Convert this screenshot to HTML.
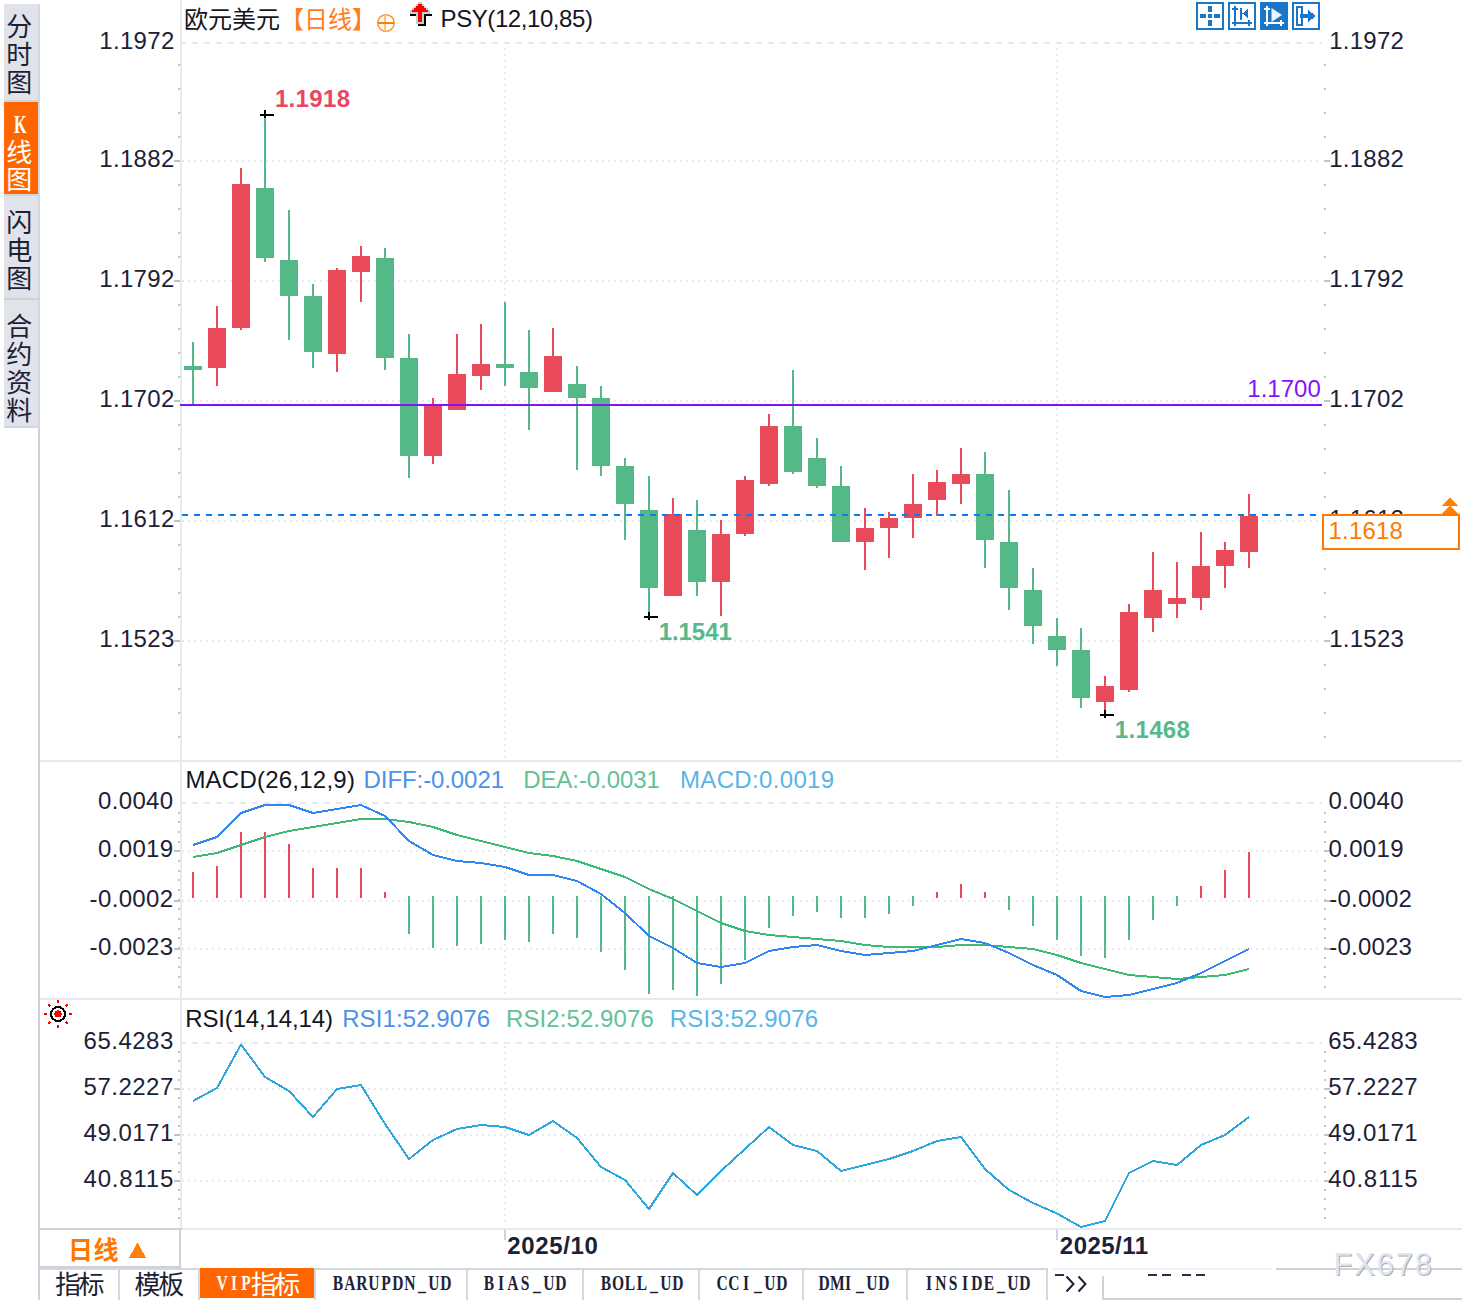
<!DOCTYPE html>
<html lang="zh">
<head>
<meta charset="utf-8">
<title>EURUSD Daily K-Line Chart</title>
<style>
html,body{margin:0;padding:0;background:#fff;}
body{width:1462px;height:1300px;position:relative;overflow:hidden;font-family:"Liberation Sans",sans-serif;}
#chart{position:absolute;left:0;top:0;width:1462px;height:1300px;}
#chart svg{position:absolute;left:0;top:0;}
#chart svg text{font-family:"Liberation Sans","Noto Sans CJK SC",sans-serif;}
.t{position:absolute;white-space:nowrap;line-height:1;font-family:"Liberation Sans",sans-serif;}
.z{z-index:2;}
.tab{font-family:"Liberation Serif",serif;font-size:21px;font-weight:bold;line-height:24px;transform:scaleX(.74);transform-origin:0 0;}
.tab i{display:inline-block;width:16.216px;text-align:center;font-style:normal;}
.tag{position:absolute;left:1322px;top:514px;width:134px;height:32px;border:2px solid #ff7a00;background:#fff;z-index:1;}
</style>
</head>
<body>
<div id="chart">
<svg width="1462" height="1300" viewBox="0 0 1462 1300" shape-rendering="crispEdges">
<rect x="4" y="4" width="36" height="424" fill="#e1e3eb"/>
<rect x="38" y="4" width="2" height="424" fill="#d4d8e0"/>
<rect x="4" y="100" width="36" height="2" fill="#d0d6de"/>
<rect x="4" y="194" width="36" height="2" fill="#d0d6de"/>
<rect x="4" y="298" width="36" height="2" fill="#ccd3da"/>
<rect x="4" y="426" width="36" height="2" fill="#d0d6de"/>
<rect x="4" y="102" width="34" height="92" fill="#ff6600"/>
<text x="6.2" y="35.7" font-size="26" fill="#1d2136">分</text>
<text x="6.2" y="64" font-size="26" fill="#1d2136">时</text>
<text x="6.2" y="92" font-size="26" fill="#1d2136">图</text>
<text x="6.2" y="162.1" font-size="26" fill="#ffffff">线</text>
<text x="6.2" y="189.3" font-size="26" fill="#ffffff">图</text>
<text x="6.2" y="231.5" font-size="26" fill="#1d2136">闪</text>
<text x="6.2" y="260.2" font-size="26" fill="#1d2136">电</text>
<text x="6.2" y="288.2" font-size="26" fill="#1d2136">图</text>
<text x="6.2" y="335.7" font-size="26" fill="#1d2136">合</text>
<text x="6.2" y="363.7" font-size="26" fill="#1d2136">约</text>
<text x="6.2" y="391.7" font-size="26" fill="#1d2136">资</text>
<text x="6.2" y="419.7" font-size="26" fill="#1d2136">料</text>
<rect x="38" y="428" width="2" height="872" fill="#cdd2da"/>
<rect x="180" y="0" width="2" height="1229" fill="#e6eaef"/>
<rect x="40" y="760" width="1422" height="2" fill="#e6eaef"/>
<rect x="40" y="998" width="1422" height="2" fill="#e6eaef"/>
<rect x="180" y="1228" width="1282" height="2" fill="#e6eaef"/>
<rect x="38" y="1228" width="144" height="2" fill="#cdd2da"/>
<rect x="179" y="1228" width="2" height="40" fill="#cdd2da"/>
<rect x="40" y="1266" width="140" height="2" fill="#cdd2da"/>
<rect x="40" y="1268" width="1008" height="2" fill="#d3d8df"/>
<rect x="1276" y="1268" width="186" height="2" fill="#cdd2da"/>
<rect x="1052" y="1268" width="220" height="2" fill="#eef1f4"/>
<rect x="1102" y="1276" width="2" height="24" fill="#cdd2da"/>
<rect x="1102" y="1298" width="360" height="2" fill="#cdd2da"/>
<rect x="118" y="1270" width="2" height="30" fill="#d3d8df"/>
<rect x="198" y="1270" width="2" height="30" fill="#d3d8df"/>
<rect x="314" y="1270" width="2" height="30" fill="#d3d8df"/>
<rect x="466" y="1270" width="2" height="30" fill="#d3d8df"/>
<rect x="582" y="1270" width="2" height="30" fill="#d3d8df"/>
<rect x="698" y="1270" width="2" height="30" fill="#d3d8df"/>
<rect x="802" y="1270" width="2" height="30" fill="#d3d8df"/>
<rect x="906" y="1270" width="2" height="30" fill="#d3d8df"/>
<rect x="1046" y="1270" width="2" height="30" fill="#d3d8df"/>
<rect x="200" y="1268" width="114" height="30" fill="#ff6600"/>
<line x1="180" y1="43" x2="1322" y2="43" stroke="#e5eaee" stroke-width="2" stroke-dasharray="6 6" stroke-dashoffset="0"/>
<line x1="182" y1="161" x2="1320" y2="161" stroke="#e6ebee" stroke-width="2" stroke-dasharray="2 4" stroke-dashoffset="0"/>
<line x1="182" y1="281" x2="1320" y2="281" stroke="#e6ebee" stroke-width="2" stroke-dasharray="2 4" stroke-dashoffset="0"/>
<line x1="182" y1="401" x2="1320" y2="401" stroke="#e6ebee" stroke-width="2" stroke-dasharray="2 4" stroke-dashoffset="0"/>
<line x1="182" y1="521" x2="1320" y2="521" stroke="#e6ebee" stroke-width="2" stroke-dasharray="2 4" stroke-dashoffset="0"/>
<line x1="182" y1="641" x2="1320" y2="641" stroke="#e6ebee" stroke-width="2" stroke-dasharray="2 4" stroke-dashoffset="0"/>
<line x1="505" y1="48" x2="505" y2="758" stroke="#e6ebee" stroke-width="2" stroke-dasharray="2 4" stroke-dashoffset="0"/>
<line x1="1057" y1="48" x2="1057" y2="758" stroke="#e6ebee" stroke-width="2" stroke-dasharray="2 4" stroke-dashoffset="0"/>
<line x1="180" y1="803" x2="1322" y2="803" stroke="#e5eaee" stroke-width="2" stroke-dasharray="6 6" stroke-dashoffset="0"/>
<line x1="182" y1="851" x2="1320" y2="851" stroke="#e6ebee" stroke-width="2" stroke-dasharray="2 4" stroke-dashoffset="0"/>
<line x1="182" y1="900.5" x2="1320" y2="900.5" stroke="#e6ebee" stroke-width="2" stroke-dasharray="2 4" stroke-dashoffset="0"/>
<line x1="182" y1="948.5" x2="1320" y2="948.5" stroke="#e6ebee" stroke-width="2" stroke-dasharray="2 4" stroke-dashoffset="0"/>
<line x1="505" y1="806" x2="505" y2="996" stroke="#e6ebee" stroke-width="2" stroke-dasharray="2 4" stroke-dashoffset="0"/>
<line x1="1057" y1="806" x2="1057" y2="996" stroke="#e6ebee" stroke-width="2" stroke-dasharray="2 4" stroke-dashoffset="0"/>
<line x1="180" y1="1043" x2="1322" y2="1043" stroke="#e5eaee" stroke-width="2" stroke-dasharray="6 6" stroke-dashoffset="0"/>
<line x1="182" y1="1089" x2="1320" y2="1089" stroke="#e6ebee" stroke-width="2" stroke-dasharray="2 4" stroke-dashoffset="0"/>
<line x1="182" y1="1135" x2="1320" y2="1135" stroke="#e6ebee" stroke-width="2" stroke-dasharray="2 4" stroke-dashoffset="0"/>
<line x1="182" y1="1181" x2="1320" y2="1181" stroke="#e6ebee" stroke-width="2" stroke-dasharray="2 4" stroke-dashoffset="0"/>
<line x1="505" y1="1046" x2="505" y2="1226" stroke="#e6ebee" stroke-width="2" stroke-dasharray="2 4" stroke-dashoffset="0"/>
<line x1="1057" y1="1046" x2="1057" y2="1226" stroke="#e6ebee" stroke-width="2" stroke-dasharray="2 4" stroke-dashoffset="0"/>
<rect x="178" y="64" width="2" height="2" fill="#bcc4ce"/>
<rect x="1324" y="64" width="2" height="2" fill="#bcc4ce"/>
<rect x="178" y="88" width="2" height="2" fill="#bcc4ce"/>
<rect x="1324" y="88" width="2" height="2" fill="#bcc4ce"/>
<rect x="178" y="112" width="2" height="2" fill="#bcc4ce"/>
<rect x="1324" y="112" width="2" height="2" fill="#bcc4ce"/>
<rect x="178" y="136" width="2" height="2" fill="#bcc4ce"/>
<rect x="1324" y="136" width="2" height="2" fill="#bcc4ce"/>
<rect x="178" y="160" width="2" height="2" fill="#bcc4ce"/>
<rect x="1324" y="160" width="2" height="2" fill="#bcc4ce"/>
<rect x="178" y="184" width="2" height="2" fill="#bcc4ce"/>
<rect x="1324" y="184" width="2" height="2" fill="#bcc4ce"/>
<rect x="178" y="208" width="2" height="2" fill="#bcc4ce"/>
<rect x="1324" y="208" width="2" height="2" fill="#bcc4ce"/>
<rect x="178" y="232" width="2" height="2" fill="#bcc4ce"/>
<rect x="1324" y="232" width="2" height="2" fill="#bcc4ce"/>
<rect x="178" y="256" width="2" height="2" fill="#bcc4ce"/>
<rect x="1324" y="256" width="2" height="2" fill="#bcc4ce"/>
<rect x="178" y="280" width="2" height="2" fill="#bcc4ce"/>
<rect x="1324" y="280" width="2" height="2" fill="#bcc4ce"/>
<rect x="178" y="304" width="2" height="2" fill="#bcc4ce"/>
<rect x="1324" y="304" width="2" height="2" fill="#bcc4ce"/>
<rect x="178" y="328" width="2" height="2" fill="#bcc4ce"/>
<rect x="1324" y="328" width="2" height="2" fill="#bcc4ce"/>
<rect x="178" y="352" width="2" height="2" fill="#bcc4ce"/>
<rect x="1324" y="352" width="2" height="2" fill="#bcc4ce"/>
<rect x="178" y="376" width="2" height="2" fill="#bcc4ce"/>
<rect x="1324" y="376" width="2" height="2" fill="#bcc4ce"/>
<rect x="178" y="400" width="2" height="2" fill="#bcc4ce"/>
<rect x="1324" y="400" width="2" height="2" fill="#bcc4ce"/>
<rect x="178" y="424" width="2" height="2" fill="#bcc4ce"/>
<rect x="1324" y="424" width="2" height="2" fill="#bcc4ce"/>
<rect x="178" y="448" width="2" height="2" fill="#bcc4ce"/>
<rect x="1324" y="448" width="2" height="2" fill="#bcc4ce"/>
<rect x="178" y="472" width="2" height="2" fill="#bcc4ce"/>
<rect x="1324" y="472" width="2" height="2" fill="#bcc4ce"/>
<rect x="178" y="496" width="2" height="2" fill="#bcc4ce"/>
<rect x="1324" y="496" width="2" height="2" fill="#bcc4ce"/>
<rect x="178" y="520" width="2" height="2" fill="#bcc4ce"/>
<rect x="1324" y="520" width="2" height="2" fill="#bcc4ce"/>
<rect x="178" y="544" width="2" height="2" fill="#bcc4ce"/>
<rect x="1324" y="544" width="2" height="2" fill="#bcc4ce"/>
<rect x="178" y="568" width="2" height="2" fill="#bcc4ce"/>
<rect x="1324" y="568" width="2" height="2" fill="#bcc4ce"/>
<rect x="178" y="592" width="2" height="2" fill="#bcc4ce"/>
<rect x="1324" y="592" width="2" height="2" fill="#bcc4ce"/>
<rect x="178" y="616" width="2" height="2" fill="#bcc4ce"/>
<rect x="1324" y="616" width="2" height="2" fill="#bcc4ce"/>
<rect x="178" y="640" width="2" height="2" fill="#bcc4ce"/>
<rect x="1324" y="640" width="2" height="2" fill="#bcc4ce"/>
<rect x="178" y="664" width="2" height="2" fill="#bcc4ce"/>
<rect x="1324" y="664" width="2" height="2" fill="#bcc4ce"/>
<rect x="178" y="688" width="2" height="2" fill="#bcc4ce"/>
<rect x="1324" y="688" width="2" height="2" fill="#bcc4ce"/>
<rect x="178" y="712" width="2" height="2" fill="#bcc4ce"/>
<rect x="1324" y="712" width="2" height="2" fill="#bcc4ce"/>
<rect x="178" y="736" width="2" height="2" fill="#bcc4ce"/>
<rect x="1324" y="736" width="2" height="2" fill="#bcc4ce"/>
<rect x="174" y="160" width="6" height="2" fill="#bcc4ce"/>
<rect x="1324" y="160" width="6" height="2" fill="#bcc4ce"/>
<rect x="174" y="280" width="6" height="2" fill="#bcc4ce"/>
<rect x="1324" y="280" width="6" height="2" fill="#bcc4ce"/>
<rect x="174" y="400" width="6" height="2" fill="#bcc4ce"/>
<rect x="1324" y="400" width="6" height="2" fill="#bcc4ce"/>
<rect x="174" y="520" width="6" height="2" fill="#bcc4ce"/>
<rect x="1324" y="520" width="6" height="2" fill="#bcc4ce"/>
<rect x="174" y="640" width="6" height="2" fill="#bcc4ce"/>
<rect x="1324" y="640" width="6" height="2" fill="#bcc4ce"/>
<rect x="178" y="811.6" width="2" height="2" fill="#bcc4ce"/>
<rect x="1324" y="811.6" width="2" height="2" fill="#bcc4ce"/>
<rect x="178" y="821.28" width="2" height="2" fill="#bcc4ce"/>
<rect x="1324" y="821.28" width="2" height="2" fill="#bcc4ce"/>
<rect x="178" y="830.96" width="2" height="2" fill="#bcc4ce"/>
<rect x="1324" y="830.96" width="2" height="2" fill="#bcc4ce"/>
<rect x="178" y="840.64" width="2" height="2" fill="#bcc4ce"/>
<rect x="1324" y="840.64" width="2" height="2" fill="#bcc4ce"/>
<rect x="178" y="850.32" width="2" height="2" fill="#bcc4ce"/>
<rect x="1324" y="850.32" width="2" height="2" fill="#bcc4ce"/>
<rect x="178" y="860" width="2" height="2" fill="#bcc4ce"/>
<rect x="1324" y="860" width="2" height="2" fill="#bcc4ce"/>
<rect x="178" y="869.68" width="2" height="2" fill="#bcc4ce"/>
<rect x="1324" y="869.68" width="2" height="2" fill="#bcc4ce"/>
<rect x="178" y="879.36" width="2" height="2" fill="#bcc4ce"/>
<rect x="1324" y="879.36" width="2" height="2" fill="#bcc4ce"/>
<rect x="178" y="889.04" width="2" height="2" fill="#bcc4ce"/>
<rect x="1324" y="889.04" width="2" height="2" fill="#bcc4ce"/>
<rect x="178" y="898.72" width="2" height="2" fill="#bcc4ce"/>
<rect x="1324" y="898.72" width="2" height="2" fill="#bcc4ce"/>
<rect x="178" y="908.4" width="2" height="2" fill="#bcc4ce"/>
<rect x="1324" y="908.4" width="2" height="2" fill="#bcc4ce"/>
<rect x="178" y="918.08" width="2" height="2" fill="#bcc4ce"/>
<rect x="1324" y="918.08" width="2" height="2" fill="#bcc4ce"/>
<rect x="178" y="927.76" width="2" height="2" fill="#bcc4ce"/>
<rect x="1324" y="927.76" width="2" height="2" fill="#bcc4ce"/>
<rect x="178" y="937.44" width="2" height="2" fill="#bcc4ce"/>
<rect x="1324" y="937.44" width="2" height="2" fill="#bcc4ce"/>
<rect x="178" y="947.12" width="2" height="2" fill="#bcc4ce"/>
<rect x="1324" y="947.12" width="2" height="2" fill="#bcc4ce"/>
<rect x="178" y="956.8" width="2" height="2" fill="#bcc4ce"/>
<rect x="1324" y="956.8" width="2" height="2" fill="#bcc4ce"/>
<rect x="178" y="966.48" width="2" height="2" fill="#bcc4ce"/>
<rect x="1324" y="966.48" width="2" height="2" fill="#bcc4ce"/>
<rect x="178" y="976.16" width="2" height="2" fill="#bcc4ce"/>
<rect x="1324" y="976.16" width="2" height="2" fill="#bcc4ce"/>
<rect x="178" y="985.84" width="2" height="2" fill="#bcc4ce"/>
<rect x="1324" y="985.84" width="2" height="2" fill="#bcc4ce"/>
<rect x="174" y="850" width="6" height="2" fill="#bcc4ce"/>
<rect x="1324" y="850" width="6" height="2" fill="#bcc4ce"/>
<rect x="174" y="899.5" width="6" height="2" fill="#bcc4ce"/>
<rect x="1324" y="899.5" width="6" height="2" fill="#bcc4ce"/>
<rect x="174" y="947.5" width="6" height="2" fill="#bcc4ce"/>
<rect x="1324" y="947.5" width="6" height="2" fill="#bcc4ce"/>
<rect x="178" y="1051.2" width="2" height="2" fill="#bcc4ce"/>
<rect x="1324" y="1051.2" width="2" height="2" fill="#bcc4ce"/>
<rect x="178" y="1060.4" width="2" height="2" fill="#bcc4ce"/>
<rect x="1324" y="1060.4" width="2" height="2" fill="#bcc4ce"/>
<rect x="178" y="1069.6" width="2" height="2" fill="#bcc4ce"/>
<rect x="1324" y="1069.6" width="2" height="2" fill="#bcc4ce"/>
<rect x="178" y="1078.8" width="2" height="2" fill="#bcc4ce"/>
<rect x="1324" y="1078.8" width="2" height="2" fill="#bcc4ce"/>
<rect x="178" y="1088" width="2" height="2" fill="#bcc4ce"/>
<rect x="1324" y="1088" width="2" height="2" fill="#bcc4ce"/>
<rect x="178" y="1097.2" width="2" height="2" fill="#bcc4ce"/>
<rect x="1324" y="1097.2" width="2" height="2" fill="#bcc4ce"/>
<rect x="178" y="1106.4" width="2" height="2" fill="#bcc4ce"/>
<rect x="1324" y="1106.4" width="2" height="2" fill="#bcc4ce"/>
<rect x="178" y="1115.6" width="2" height="2" fill="#bcc4ce"/>
<rect x="1324" y="1115.6" width="2" height="2" fill="#bcc4ce"/>
<rect x="178" y="1124.8" width="2" height="2" fill="#bcc4ce"/>
<rect x="1324" y="1124.8" width="2" height="2" fill="#bcc4ce"/>
<rect x="178" y="1134" width="2" height="2" fill="#bcc4ce"/>
<rect x="1324" y="1134" width="2" height="2" fill="#bcc4ce"/>
<rect x="178" y="1143.2" width="2" height="2" fill="#bcc4ce"/>
<rect x="1324" y="1143.2" width="2" height="2" fill="#bcc4ce"/>
<rect x="178" y="1152.4" width="2" height="2" fill="#bcc4ce"/>
<rect x="1324" y="1152.4" width="2" height="2" fill="#bcc4ce"/>
<rect x="178" y="1161.6" width="2" height="2" fill="#bcc4ce"/>
<rect x="1324" y="1161.6" width="2" height="2" fill="#bcc4ce"/>
<rect x="178" y="1170.8" width="2" height="2" fill="#bcc4ce"/>
<rect x="1324" y="1170.8" width="2" height="2" fill="#bcc4ce"/>
<rect x="178" y="1180" width="2" height="2" fill="#bcc4ce"/>
<rect x="1324" y="1180" width="2" height="2" fill="#bcc4ce"/>
<rect x="178" y="1189.2" width="2" height="2" fill="#bcc4ce"/>
<rect x="1324" y="1189.2" width="2" height="2" fill="#bcc4ce"/>
<rect x="178" y="1198.4" width="2" height="2" fill="#bcc4ce"/>
<rect x="1324" y="1198.4" width="2" height="2" fill="#bcc4ce"/>
<rect x="178" y="1207.6" width="2" height="2" fill="#bcc4ce"/>
<rect x="1324" y="1207.6" width="2" height="2" fill="#bcc4ce"/>
<rect x="178" y="1216.8" width="2" height="2" fill="#bcc4ce"/>
<rect x="1324" y="1216.8" width="2" height="2" fill="#bcc4ce"/>
<rect x="174" y="1088" width="6" height="2" fill="#bcc4ce"/>
<rect x="1324" y="1088" width="6" height="2" fill="#bcc4ce"/>
<rect x="174" y="1134" width="6" height="2" fill="#bcc4ce"/>
<rect x="1324" y="1134" width="6" height="2" fill="#bcc4ce"/>
<rect x="174" y="1180" width="6" height="2" fill="#bcc4ce"/>
<rect x="1324" y="1180" width="6" height="2" fill="#bcc4ce"/>
<rect x="192" y="342" width="2" height="62" fill="#55b887"/>
<rect x="184" y="366" width="18" height="4" fill="#55b887"/>
<rect x="216" y="306" width="2" height="80" fill="#e94b5b"/>
<rect x="208" y="328" width="18" height="40" fill="#e94b5b"/>
<rect x="240" y="168" width="2" height="162" fill="#e94b5b"/>
<rect x="232" y="184" width="18" height="144" fill="#e94b5b"/>
<rect x="264" y="114" width="2" height="148" fill="#55b887"/>
<rect x="256" y="188" width="18" height="70" fill="#55b887"/>
<rect x="288" y="210" width="2" height="130" fill="#55b887"/>
<rect x="280" y="260" width="18" height="36" fill="#55b887"/>
<rect x="312" y="284" width="2" height="84" fill="#55b887"/>
<rect x="304" y="296" width="18" height="56" fill="#55b887"/>
<rect x="336" y="268" width="2" height="104" fill="#e94b5b"/>
<rect x="328" y="270" width="18" height="84" fill="#e94b5b"/>
<rect x="360" y="246" width="2" height="56" fill="#e94b5b"/>
<rect x="352" y="256" width="18" height="16" fill="#e94b5b"/>
<rect x="384" y="248" width="2" height="122" fill="#55b887"/>
<rect x="376" y="258" width="18" height="100" fill="#55b887"/>
<rect x="408" y="334" width="2" height="144" fill="#55b887"/>
<rect x="400" y="358" width="18" height="98" fill="#55b887"/>
<rect x="432" y="398" width="2" height="66" fill="#e94b5b"/>
<rect x="424" y="404" width="18" height="52" fill="#e94b5b"/>
<rect x="456" y="334" width="2" height="76" fill="#e94b5b"/>
<rect x="448" y="374" width="18" height="36" fill="#e94b5b"/>
<rect x="480" y="324" width="2" height="66" fill="#e94b5b"/>
<rect x="472" y="364" width="18" height="12" fill="#e94b5b"/>
<rect x="504" y="302" width="2" height="84" fill="#55b887"/>
<rect x="496" y="364" width="18" height="4" fill="#55b887"/>
<rect x="528" y="330" width="2" height="100" fill="#55b887"/>
<rect x="520" y="372" width="18" height="16" fill="#55b887"/>
<rect x="552" y="328" width="2" height="64" fill="#e94b5b"/>
<rect x="544" y="356" width="18" height="36" fill="#e94b5b"/>
<rect x="576" y="366" width="2" height="104" fill="#55b887"/>
<rect x="568" y="384" width="18" height="14" fill="#55b887"/>
<rect x="600" y="386" width="2" height="90" fill="#55b887"/>
<rect x="592" y="398" width="18" height="68" fill="#55b887"/>
<rect x="624" y="458" width="2" height="82" fill="#55b887"/>
<rect x="616" y="466" width="18" height="38" fill="#55b887"/>
<rect x="648" y="476" width="2" height="141" fill="#55b887"/>
<rect x="640" y="510" width="18" height="78" fill="#55b887"/>
<rect x="672" y="498" width="2" height="98" fill="#e94b5b"/>
<rect x="664" y="514" width="18" height="82" fill="#e94b5b"/>
<rect x="696" y="500" width="2" height="96" fill="#55b887"/>
<rect x="688" y="530" width="18" height="52" fill="#55b887"/>
<rect x="720" y="520" width="2" height="96" fill="#e94b5b"/>
<rect x="712" y="534" width="18" height="48" fill="#e94b5b"/>
<rect x="744" y="476" width="2" height="60" fill="#e94b5b"/>
<rect x="736" y="480" width="18" height="54" fill="#e94b5b"/>
<rect x="768" y="414" width="2" height="72" fill="#e94b5b"/>
<rect x="760" y="426" width="18" height="58" fill="#e94b5b"/>
<rect x="792" y="370" width="2" height="104" fill="#55b887"/>
<rect x="784" y="426" width="18" height="46" fill="#55b887"/>
<rect x="816" y="438" width="2" height="50" fill="#55b887"/>
<rect x="808" y="458" width="18" height="28" fill="#55b887"/>
<rect x="840" y="466" width="2" height="76" fill="#55b887"/>
<rect x="832" y="486" width="18" height="56" fill="#55b887"/>
<rect x="864" y="508" width="2" height="62" fill="#e94b5b"/>
<rect x="856" y="528" width="18" height="14" fill="#e94b5b"/>
<rect x="888" y="512" width="2" height="46" fill="#e94b5b"/>
<rect x="880" y="518" width="18" height="10" fill="#e94b5b"/>
<rect x="912" y="474" width="2" height="64" fill="#e94b5b"/>
<rect x="904" y="504" width="18" height="14" fill="#e94b5b"/>
<rect x="936" y="470" width="2" height="46" fill="#e94b5b"/>
<rect x="928" y="482" width="18" height="18" fill="#e94b5b"/>
<rect x="960" y="448" width="2" height="56" fill="#e94b5b"/>
<rect x="952" y="474" width="18" height="10" fill="#e94b5b"/>
<rect x="984" y="452" width="2" height="116" fill="#55b887"/>
<rect x="976" y="474" width="18" height="66" fill="#55b887"/>
<rect x="1008" y="490" width="2" height="120" fill="#55b887"/>
<rect x="1000" y="542" width="18" height="46" fill="#55b887"/>
<rect x="1032" y="568" width="2" height="76" fill="#55b887"/>
<rect x="1024" y="590" width="18" height="36" fill="#55b887"/>
<rect x="1056" y="618" width="2" height="48" fill="#55b887"/>
<rect x="1048" y="636" width="18" height="14" fill="#55b887"/>
<rect x="1080" y="628" width="2" height="80" fill="#55b887"/>
<rect x="1072" y="650" width="18" height="48" fill="#55b887"/>
<rect x="1104" y="676" width="2" height="39" fill="#e94b5b"/>
<rect x="1096" y="686" width="18" height="16" fill="#e94b5b"/>
<rect x="1128" y="604" width="2" height="88" fill="#e94b5b"/>
<rect x="1120" y="612" width="18" height="78" fill="#e94b5b"/>
<rect x="1152" y="552" width="2" height="80" fill="#e94b5b"/>
<rect x="1144" y="590" width="18" height="28" fill="#e94b5b"/>
<rect x="1176" y="562" width="2" height="56" fill="#e94b5b"/>
<rect x="1168" y="598" width="18" height="6" fill="#e94b5b"/>
<rect x="1200" y="532" width="2" height="78" fill="#e94b5b"/>
<rect x="1192" y="566" width="18" height="32" fill="#e94b5b"/>
<rect x="1224" y="542" width="2" height="46" fill="#e94b5b"/>
<rect x="1216" y="550" width="18" height="16" fill="#e94b5b"/>
<rect x="1248" y="494" width="2" height="74" fill="#e94b5b"/>
<rect x="1240" y="516" width="18" height="36" fill="#e94b5b"/>
<rect x="180" y="403.5" width="1142" height="2" fill="#8312fb"/>
<line x1="182" y1="515" x2="1317" y2="515" stroke="#0c7cf5" stroke-width="2" stroke-dasharray="6 6" stroke-dashoffset="0"/>
<rect x="260" y="114" width="14" height="2" fill="#000"/>
<rect x="264" y="110" width="2" height="8" fill="#000"/>
<rect x="644" y="616" width="14" height="2" fill="#000"/>
<rect x="648" y="612" width="2" height="8" fill="#000"/>
<rect x="1100" y="714" width="14" height="2" fill="#000"/>
<rect x="1104" y="710" width="2" height="8" fill="#000"/>
<rect x="192" y="872" width="2" height="26" fill="#e94b5b"/>
<rect x="216" y="866" width="2" height="32" fill="#e94b5b"/>
<rect x="240" y="832" width="2" height="66" fill="#e94b5b"/>
<rect x="264" y="832" width="2" height="66" fill="#e94b5b"/>
<rect x="288" y="844" width="2" height="54" fill="#e94b5b"/>
<rect x="312" y="868" width="2" height="30" fill="#e94b5b"/>
<rect x="336" y="868" width="2" height="30" fill="#e94b5b"/>
<rect x="360" y="868" width="2" height="30" fill="#e94b5b"/>
<rect x="384" y="892" width="2" height="6" fill="#e94b5b"/>
<rect x="408" y="896" width="2" height="38" fill="#55b887"/>
<rect x="432" y="896" width="2" height="52" fill="#55b887"/>
<rect x="456" y="896" width="2" height="50" fill="#55b887"/>
<rect x="480" y="896" width="2" height="48" fill="#55b887"/>
<rect x="504" y="896" width="2" height="44" fill="#55b887"/>
<rect x="528" y="896" width="2" height="46" fill="#55b887"/>
<rect x="552" y="896" width="2" height="38" fill="#55b887"/>
<rect x="576" y="896" width="2" height="42" fill="#55b887"/>
<rect x="600" y="896" width="2" height="56" fill="#55b887"/>
<rect x="624" y="896" width="2" height="74" fill="#55b887"/>
<rect x="648" y="896" width="2" height="98" fill="#55b887"/>
<rect x="672" y="896" width="2" height="94" fill="#55b887"/>
<rect x="696" y="896" width="2" height="100" fill="#55b887"/>
<rect x="720" y="896" width="2" height="88" fill="#55b887"/>
<rect x="744" y="896" width="2" height="64" fill="#55b887"/>
<rect x="768" y="896" width="2" height="32" fill="#55b887"/>
<rect x="792" y="896" width="2" height="20" fill="#55b887"/>
<rect x="816" y="896" width="2" height="16" fill="#55b887"/>
<rect x="840" y="896" width="2" height="22" fill="#55b887"/>
<rect x="864" y="896" width="2" height="22" fill="#55b887"/>
<rect x="888" y="896" width="2" height="18" fill="#55b887"/>
<rect x="912" y="896" width="2" height="10" fill="#55b887"/>
<rect x="936" y="892" width="2" height="6" fill="#e94b5b"/>
<rect x="960" y="884" width="2" height="14" fill="#e94b5b"/>
<rect x="984" y="892" width="2" height="6" fill="#e94b5b"/>
<rect x="1008" y="896" width="2" height="14" fill="#55b887"/>
<rect x="1032" y="896" width="2" height="30" fill="#55b887"/>
<rect x="1056" y="896" width="2" height="44" fill="#55b887"/>
<rect x="1080" y="896" width="2" height="60" fill="#55b887"/>
<rect x="1104" y="896" width="2" height="62" fill="#55b887"/>
<rect x="1128" y="896" width="2" height="44" fill="#55b887"/>
<rect x="1152" y="896" width="2" height="24" fill="#55b887"/>
<rect x="1176" y="896" width="2" height="10" fill="#55b887"/>
<rect x="1200" y="886" width="2" height="12" fill="#e94b5b"/>
<rect x="1224" y="870" width="2" height="28" fill="#e94b5b"/>
<rect x="1248" y="852" width="2" height="46" fill="#e94b5b"/>
<polyline points="193,857 217,853 241,845 265,837 289,831 313,827 337,823 361,819 385,819 409,822 433,827 457,835 481,841 505,847 529,853 553,856 577,861 601,869 625,877 649,889 673,899 697,911 721,923 745,931 769,935 793,937 817,939 841,941 865,945 889,947 913,947 937,947 961,945 985,945 1009,947 1033,949 1057,955 1081,963 1105,969 1129,975 1153,977 1177,979 1201,977 1225,975 1249,969" fill="none" stroke="#3dba78" stroke-width="2" stroke-linejoin="round"/>
<polyline points="193,845 217,837 241,813 265,805 289,805 313,813 337,809 361,805 385,816 409,841 433,855 457,861 481,863 505,867 529,875 553,875 577,881 601,894 625,913 649,936 673,948 697,963 721,967 745,963 769,951 793,947 817,945 841,951 865,955 889,953 913,951 937,945 961,939 985,943 1009,953 1033,965 1057,975 1081,991 1105,997 1129,995 1153,989 1177,983 1201,973 1225,961 1249,949" fill="none" stroke="#2f86ee" stroke-width="2" stroke-linejoin="round"/>
<polyline points="193,1101 217,1088 241,1044.5 265,1077 289,1091 313,1117 337,1089 361,1085 385,1124 409,1159 433,1140 457,1129 481,1125 505,1127 529,1135 553,1121 577,1138 601,1167 625,1180 649,1209 673,1173 697,1195 721,1171 745,1149 769,1127 793,1145 817,1151 841,1171 865,1165 889,1159 913,1151 937,1141 961,1137 985,1169 1009,1190 1033,1203 1057,1213.5 1081,1227 1105,1221 1129,1173 1153,1161 1177,1165 1201,1145 1225,1135 1249,1117" fill="none" stroke="#2ba6df" stroke-width="2" stroke-linejoin="round"/>
<path shape-rendering="geometricPrecision" d="M1450 497.5 L1458.3 506 H1441.7 Z M1450 505.5 L1458.3 514 H1441.7 Z" fill="#ff7f00"/>
<rect x="504" y="1230" width="2" height="10" fill="#cdd4dc"/>
<rect x="1056" y="1230" width="2" height="10" fill="#cdd4dc"/>
<rect x="1197" y="3" width="26" height="26" fill="#fff" stroke="#1976c9" stroke-width="2"/>
<rect x="1229" y="3" width="26" height="26" fill="#fff" stroke="#1976c9" stroke-width="2"/>
<rect x="1260" y="2" width="28" height="28" fill="#1976c9"/>
<rect x="1293" y="3" width="26" height="26" fill="#fff" stroke="#1976c9" stroke-width="2"/>
<rect x="1200" y="14" width="6" height="4" fill="#1976c9"/>
<rect x="1214" y="14" width="6" height="4" fill="#1976c9"/>
<rect x="1208" y="14" width="4" height="4" fill="#1976c9"/>
<rect x="1208" y="6" width="4" height="6" fill="#1976c9"/>
<rect x="1208" y="20" width="4" height="6" fill="#1976c9"/>
<rect x="1234" y="6" width="2" height="20" fill="#1976c9"/>
<rect x="1232" y="8" width="6" height="2" fill="#1976c9"/>
<rect x="1232" y="22" width="20" height="2" fill="#1976c9"/>
<rect x="1248" y="20" width="2" height="6" fill="#1976c9"/>
<rect x="1240" y="8" width="2" height="12" fill="#1976c9"/>
<path d="M1248 9 L1248 18 L1242.5 13.5 Z" fill="#1976c9"/>
<rect x="1266" y="6" width="2" height="20" fill="#fff"/>
<rect x="1264" y="8" width="6" height="2" fill="#fff"/>
<rect x="1264" y="22" width="20" height="2" fill="#fff"/>
<rect x="1280" y="20" width="2" height="6" fill="#fff"/>
<path shape-rendering="geometricPrecision" d="M1271.5 8 L1282 15 L1271.5 22 Z" fill="#fff" fill-opacity=".92"/>
<rect x="1297" y="7" width="5" height="18" fill="none" stroke="#1976c9" stroke-width="2"/>
<rect x="1300" y="14" width="10" height="4" fill="#1976c9"/>
<path d="M1308 10 L1316 16 L1308 22 Z" fill="#1976c9"/>
<g shape-rendering="geometricPrecision" fill="none"><circle cx="386" cy="23" r="8.3" stroke="#ff9436" stroke-width="1.5"/><path d="M385 15V31" stroke="#ffc26e" stroke-width="2"/><path d="M378 23H394" stroke="#ff8000" stroke-width="2"/></g>
<rect x="418" y="2" width="4" height="2" fill="#c6cfcf"/>
<rect x="416" y="4" width="2" height="2" fill="#c6cfcf"/>
<rect x="422" y="4" width="2" height="2" fill="#c6cfcf"/>
<rect x="414" y="6" width="2" height="2" fill="#c6cfcf"/>
<rect x="424" y="6" width="2" height="2" fill="#c6cfcf"/>
<rect x="412" y="8" width="2" height="2" fill="#c6cfcf"/>
<rect x="426" y="8" width="2" height="2" fill="#c6cfcf"/>
<rect x="410" y="10" width="2" height="4" fill="#c6cfcf"/>
<rect x="428" y="10" width="2" height="4" fill="#c6cfcf"/>
<rect x="410" y="12" width="8" height="2" fill="#c6cfcf"/>
<rect x="422" y="12" width="8" height="2" fill="#c6cfcf"/>
<rect x="416" y="14" width="2" height="10" fill="#c6cfcf"/>
<rect x="422" y="14" width="2" height="10" fill="#c6cfcf"/>
<rect x="416" y="22" width="8" height="2" fill="#c6cfcf"/>
<rect x="410" y="14" width="6" height="2" fill="#000"/>
<rect x="424" y="14" width="8" height="2" fill="#000"/>
<rect x="424" y="16" width="2" height="10" fill="#000"/>
<rect x="418" y="24" width="8" height="2" fill="#000"/>
<rect x="418" y="4" width="4" height="2" fill="#ff0000"/>
<rect x="416" y="6" width="8" height="2" fill="#ff0000"/>
<rect x="414" y="8" width="12" height="2" fill="#ff0000"/>
<rect x="412" y="10" width="16" height="2" fill="#ff0000"/>
<rect x="418" y="12" width="4" height="10" fill="#ff0000"/>
<g><circle cx="58" cy="1014" r="7" fill="none" stroke="#000" stroke-width="2"/><circle cx="58" cy="1014" r="3.6" fill="#f00"/><g stroke="#f00" stroke-width="2" stroke-dasharray="3 20"><path d="M58 1003V999M58 1025V1029M47 1014H43M69 1014H73M50.2 1006.2L47.4 1003.4M65.8 1006.2L68.6 1003.4M50.2 1021.8L47.4 1024.6M65.8 1021.8L68.6 1024.6"/></g></g>
<text x="184 208 232 256" y="28.1" font-size="24" fill="#15151f">欧元美元</text>
<text x="280 304 328 352" y="28.1" font-size="24" fill="#ff7d1f">【日线】</text>
<text x="68 93.5" y="1259" font-size="25" font-weight="bold" fill="#ff7700">日线</text>
<path d="M137.5 1242.5 L146 1258 L129 1258 Z" fill="#ff7f0e"/>
<text x="54.9 78.5" y="1293.7" font-size="26" fill="#1d2136">指标</text>
<text x="134.6 158.3" y="1293.7" font-size="26" fill="#1d2136">模板</text>
<text x="250.7 274.3" y="1293.7" font-size="26" fill="#fff">指标</text>
<path d="M1055 1275h9M1148 1275h9M1162 1275h9M1182 1275h9M1196 1275h9" stroke="#2a2e44" stroke-width="2"/>
<path shape-rendering="geometricPrecision" d="M1066.5 1276.5L1073.5 1284L1066.5 1291.5M1078.5 1276.5L1085.5 1284L1078.5 1291.5" fill="none" stroke="#1d2136" stroke-width="2"/>
</svg>
<span class="t" style="left:14.20px;top:112.55px;font-size:24.5px;color:#fff;font-family:'Liberation Serif', serif;font-weight:bold;transform:scaleX(0.66);transform-origin:0.00px 50%;">K</span>
<div class="tag"></div>
<span class="t" style="left:99.20px;top:28.60px;font-size:24px;color:#1d2136;letter-spacing:0.340px;">1.1972</span>
<span class="t" style="left:1329.20px;top:28.60px;font-size:24px;color:#1d2136;letter-spacing:0.260px;">1.1972</span>
<span class="t" style="left:99.20px;top:146.60px;font-size:24px;color:#1d2136;letter-spacing:0.340px;">1.1882</span>
<span class="t" style="left:1329.20px;top:146.60px;font-size:24px;color:#1d2136;letter-spacing:0.260px;">1.1882</span>
<span class="t" style="left:99.20px;top:266.60px;font-size:24px;color:#1d2136;letter-spacing:0.340px;">1.1792</span>
<span class="t" style="left:1329.20px;top:266.60px;font-size:24px;color:#1d2136;letter-spacing:0.260px;">1.1792</span>
<span class="t" style="left:99.20px;top:386.60px;font-size:24px;color:#1d2136;letter-spacing:0.340px;">1.1702</span>
<span class="t" style="left:1329.20px;top:386.60px;font-size:24px;color:#1d2136;letter-spacing:0.260px;">1.1702</span>
<span class="t" style="left:99.20px;top:506.60px;font-size:24px;color:#1d2136;letter-spacing:0.340px;">1.1612</span>
<span class="t" style="left:1329.20px;top:506.60px;font-size:24px;color:#1d2136;letter-spacing:0.260px;">1.1612</span>
<span class="t" style="left:99.20px;top:627.10px;font-size:24px;color:#1d2136;letter-spacing:0.340px;">1.1523</span>
<span class="t" style="left:1329.20px;top:627.10px;font-size:24px;color:#1d2136;letter-spacing:0.260px;">1.1523</span>
<span class="t" style="left:98.00px;top:789.00px;font-size:24px;color:#1d2136;letter-spacing:0.340px;">0.0040</span>
<span class="t" style="left:1328.40px;top:789.00px;font-size:24px;color:#1d2136;letter-spacing:0.360px;">0.0040</span>
<span class="t" style="left:98.00px;top:837.00px;font-size:24px;color:#1d2136;letter-spacing:0.340px;">0.0019</span>
<span class="t" style="left:1328.40px;top:837.00px;font-size:24px;color:#1d2136;letter-spacing:0.360px;">0.0019</span>
<span class="t" style="left:89.60px;top:886.80px;font-size:24px;color:#1d2136;letter-spacing:0.350px;">-0.0002</span>
<span class="t" style="left:1329.30px;top:886.80px;font-size:24px;color:#1d2136;letter-spacing:0.200px;">-0.0002</span>
<span class="t" style="left:89.60px;top:934.80px;font-size:24px;color:#1d2136;letter-spacing:0.350px;">-0.0023</span>
<span class="t" style="left:1329.30px;top:934.80px;font-size:24px;color:#1d2136;letter-spacing:0.200px;">-0.0023</span>
<span class="t" style="left:83.60px;top:1028.80px;font-size:24px;color:#1d2136;letter-spacing:0.483px;">65.4283</span>
<span class="t" style="left:1328.20px;top:1028.80px;font-size:24px;color:#1d2136;letter-spacing:0.450px;">65.4283</span>
<span class="t" style="left:83.60px;top:1074.70px;font-size:24px;color:#1d2136;letter-spacing:0.483px;">57.2227</span>
<span class="t" style="left:1328.20px;top:1074.70px;font-size:24px;color:#1d2136;letter-spacing:0.450px;">57.2227</span>
<span class="t" style="left:83.60px;top:1120.90px;font-size:24px;color:#1d2136;letter-spacing:0.483px;">49.0171</span>
<span class="t" style="left:1328.20px;top:1120.90px;font-size:24px;color:#1d2136;letter-spacing:0.450px;">49.0171</span>
<span class="t" style="left:83.60px;top:1166.70px;font-size:24px;color:#1d2136;letter-spacing:0.783px;">40.8115</span>
<span class="t" style="left:1328.20px;top:1166.70px;font-size:24px;color:#1d2136;letter-spacing:0.750px;">40.8115</span>
<span class="t z" style="left:1328.50px;top:518.60px;font-size:24px;color:#ff7a00;letter-spacing:0.200px;">1.1618</span>
<span class="t" style="left:1247.30px;top:376.50px;font-size:24px;color:#8312fb;letter-spacing:0.020px;">1.1700</span>
<span class="t" style="left:274.90px;top:87.40px;font-size:24px;color:#e8475f;font-weight:bold;letter-spacing:0.340px;">1.1918</span>
<span class="t" style="left:658.70px;top:619.80px;font-size:24px;color:#57b98a;font-weight:bold;letter-spacing:-0.060px;">1.1541</span>
<span class="t" style="left:1114.80px;top:717.70px;font-size:24px;color:#57b98a;font-weight:bold;letter-spacing:0.340px;">1.1468</span>
<span class="t" style="left:440.60px;top:7.20px;font-size:24px;color:#15151f;letter-spacing:-0.425px;">PSY(12,10,85)</span>
<span class="t" style="left:185.40px;top:768.40px;font-size:24px;color:#15151f;letter-spacing:0.233px;">MACD(26,12,9)</span>
<span class="t" style="left:363.60px;top:768.40px;font-size:24px;color:#4b92ea;letter-spacing:-0.091px;">DIFF:-0.0021</span>
<span class="t" style="left:523.20px;top:768.40px;font-size:24px;color:#62c296;letter-spacing:-0.080px;">DEA:-0.0031</span>
<span class="t" style="left:680.00px;top:768.40px;font-size:24px;color:#5ab4e6;letter-spacing:0.340px;">MACD:0.0019</span>
<span class="t" style="left:185.20px;top:1006.60px;font-size:24px;color:#15151f;letter-spacing:-0.133px;">RSI(14,14,14)</span>
<span class="t" style="left:342.20px;top:1006.60px;font-size:24px;color:#4b92ea;letter-spacing:0.100px;">RSI1:52.9076</span>
<span class="t" style="left:506.00px;top:1006.60px;font-size:24px;color:#62c296;letter-spacing:0.091px;">RSI2:52.9076</span>
<span class="t" style="left:669.80px;top:1006.60px;font-size:24px;color:#5ab4e6;letter-spacing:0.136px;">RSI3:52.9076</span>
<span class="t" style="left:507.30px;top:1234.00px;font-size:24px;color:#1d2136;font-weight:bold;letter-spacing:0.633px;">2025/10</span>
<span class="t" style="left:1059.80px;top:1234.00px;font-size:24px;color:#1d2136;font-weight:bold;letter-spacing:0.483px;">2025/11</span>
<span class="t tab" style="left:216px;top:1270.5px;color:#fff;"><i>V</i><i>I</i><i>P</i></span>
<span class="t tab" style="left:332px;top:1270.5px;color:#1d2136;"><i>B</i><i>A</i><i>R</i><i>U</i><i>P</i><i>D</i><i>N</i><i>_</i><i>U</i><i>D</i></span>
<span class="t tab" style="left:483px;top:1270.5px;color:#1d2136;"><i>B</i><i>I</i><i>A</i><i>S</i><i>_</i><i>U</i><i>D</i></span>
<span class="t tab" style="left:599.5px;top:1270.5px;color:#1d2136;"><i>B</i><i>O</i><i>L</i><i>L</i><i>_</i><i>U</i><i>D</i></span>
<span class="t tab" style="left:715.5px;top:1270.5px;color:#1d2136;"><i>C</i><i>C</i><i>I</i><i>_</i><i>U</i><i>D</i></span>
<span class="t tab" style="left:818.3px;top:1270.5px;color:#1d2136;"><i>D</i><i>M</i><i>I</i><i>_</i><i>U</i><i>D</i></span>
<span class="t tab" style="left:923.3px;top:1270.5px;color:#1d2136;"><i>I</i><i>N</i><i>S</i><i>I</i><i>D</i><i>E</i><i>_</i><i>U</i><i>D</i></span>
<span class="t" style="left:1333.5px;top:1248.5px;font-size:30.5px;letter-spacing:2.1px;color:#dbe6f6;text-shadow:1px 1px 0 #b9a79a;">FX678</span>
</div>
</body>
</html>
